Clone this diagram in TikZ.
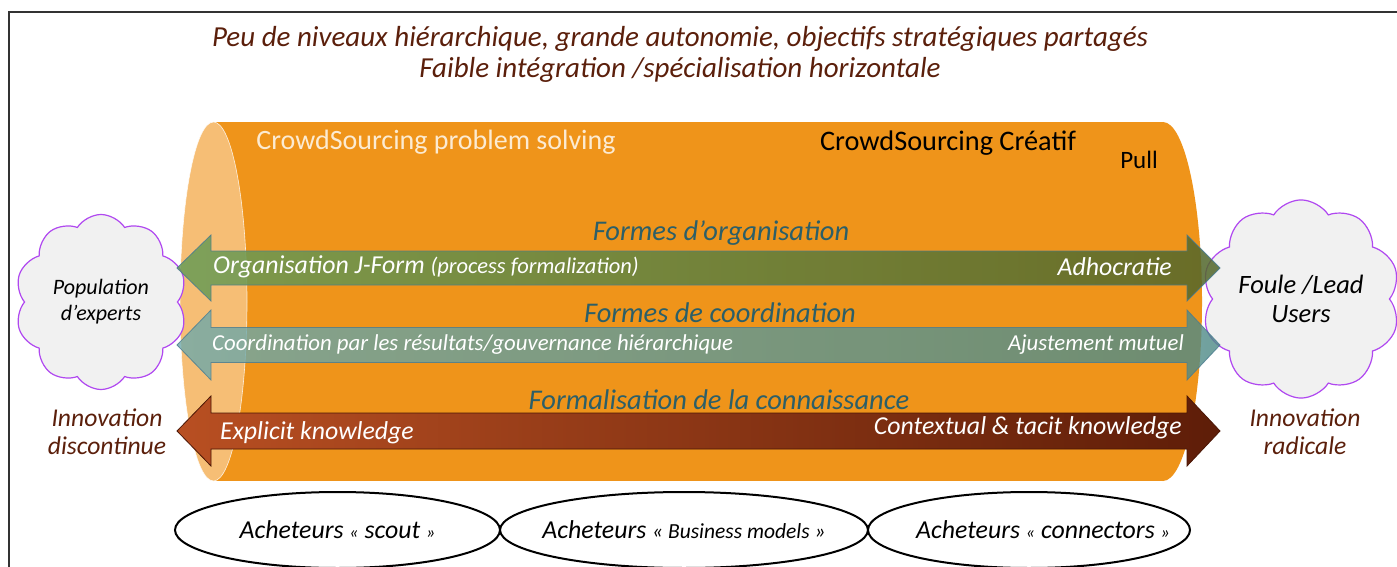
\documentclass[tikz,border=0pt]{standalone}
\usepackage{fontspec}
\setmainfont{Carlito}
\usetikzlibrary{shapes.symbols,shapes.geometric}
\definecolor{bodyor}{HTML}{EF941A}
\definecolor{faceor}{HTML}{F6BE75}
\definecolor{titlebr}{HTML}{5B1F0B}
\definecolor{labteal}{HTML}{2C5F68}
\definecolor{cloudpur}{HTML}{B048F0}
\definecolor{cloudfill}{HTML}{F1F1F1}
\definecolor{crowdcream}{HTML}{FCEBD2}
\definecolor{grL}{HTML}{6A9C56}
\definecolor{grR}{HTML}{52662A}
\definecolor{tlL}{HTML}{6FA9AA}
\definecolor{tlR}{HTML}{4E8A86}
\definecolor{brL}{HTML}{B84F22}
\definecolor{brR}{HTML}{5E1D08}
\definecolor{arredge}{HTML}{4A7C90}
\tikzset{
  titletxt/.style={font=\itshape\fontsize{29}{31}\selectfont, text=titlebr, align=center},
  formlab/.style={font=\itshape\fontsize{28.5}{30}\selectfont, text=labteal},
  arrtxt/.style={font=\itshape\fontsize{25.8}{28}\selectfont, text=white, inner sep=0pt},
  smallarrtxt/.style={font=\itshape\fontsize{22.8}{26}\selectfont, text=white, inner sep=0pt},
  cloudnode/.style={cloud, cloud puffs=10, cloud puff arc=115, aspect=1, draw=cloudpur, line width=1.2pt, fill=cloudfill, align=center, text=black, inner sep=0pt},
  innov/.style={font=\itshape\fontsize{25.6}{28}\selectfont, text=titlebr, align=center},
  buyer/.style={ellipse, draw=black, line width=2pt, fill=white, inner sep=0pt, minimum height=76pt},
  buyertxt/.style={font=\itshape\fontsize{25.8}{28}\selectfont, text=black, inner sep=0pt},
  greenarr/.style={left color=grL, right color=grR, draw=arredge, line width=0.8pt, opacity=0.85},
  tealarr/.style={left color=tlL, right color=tlR, draw=arredge, line width=0.8pt, opacity=0.8},
  brownarr/.style={left color=brL, right color=brR, draw=brR!80!black, line width=0.8pt},
}
\newcommand{\guil}[1]{{\fontsize{18}{20}\selectfont #1}}
\newcommand{\mydblarrow}[4]{% style, cy, shaft half, head half
  \path[#1] (177,-#2) -- (211,-#2+#4) -- (211,-#2+#3) -- (1187,-#2+#3) -- (1187,-#2+#4) -- (1220,-#2) -- (1187,-#2-#4) -- (1187,-#2-#3) -- (211,-#2-#3) -- (211,-#2-#4) -- cycle;
}
\begin{document}
\begin{tikzpicture}[x=1pt,y=1pt]
\useasboundingbox (0,0) rectangle (1397,-567);
\clip (0,0) rectangle (1397,-567);
\fill[white] (0,0) rectangle (1397,-567);
% frame
\draw[line width=1.3pt, black!80] (9,-12) rectangle (1410,-600);
% title
\node[titletxt] (title) at (680,-54) {Peu de niveaux hiérarchique, grande autonomie, objectifs stratégiques partagés\\Faible intégration /spécialisation horizontale};
% cylinder body
\fill[bodyor] (213,-122) rectangle (1163,-481);
\fill[bodyor] (1163,-301.5) ellipse [x radius=39, y radius=179.5];
\fill[faceor] (213.5,-301.5) ellipse [x radius=33.5, y radius=179.5];
\draw[white, line width=0.6pt, opacity=0.8] (213.5,-301.5) ellipse [x radius=33.5, y radius=179.5];
% cylinder texts
\node[font=\fontsize{28}{30}\selectfont, text=crowdcream] (cps) at (436,-142) {CrowdSourcing problem solving};
\node[font=\fontsize{28.3}{30}\selectfont, text=black] (cc) at (948,-143) {CrowdSourcing Créatif};
\node[font=\fontsize{25}{30}\selectfont, text=black] (pull) at (1139,-160) {Pull};
% clouds
\node[cloudnode, minimum width=172pt, minimum height=175pt, font=\itshape\fontsize{22}{26}\selectfont] (experts) at (101,-302) {Population\\d’experts};
\node[cloudnode, minimum width=192pt, minimum height=182pt, font=\itshape\fontsize{26.5}{29}\selectfont] (foule) at (1301,-299) {Foule /Lead\\Users};
% arrows
\mydblarrow{greenarr}{268}{17}{33}
\mydblarrow{tealarr}{345}{17.5}{35}
\mydblarrow{brownarr}{431}{18}{35}
% arrow labels
\node[formlab] (f1) at (721,-233) {Formes d’organisation};
\node[formlab] (f2) at (720,-313) {Formes de coordination};
\node[formlab] (f3) at (719,-400) {Formalisation de la connaissance};
\node[arrtxt, anchor=west] (jform) at (213,-267) {Organisation J-Form {\fontsize{22.5}{24}\selectfont (process formalization)}};
\node[arrtxt, anchor=east] (adho) at (1172,-267) {Adhocratie};
\node[smallarrtxt, anchor=west] (coord) at (212,-345) {Coordination par les résultats/gouvernance hiérarchique};
\node[smallarrtxt, anchor=east] (ajust) at (1184,-345) {Ajustement mutuel};
\node[arrtxt, anchor=west] (expl) at (220,-433) {Explicit knowledge};
\node[arrtxt, anchor=east] (ctx) at (1182,-428) {Contextual \& tacit knowledge};
% innovation
\node[innov] (idisc) at (107,-432) {Innovation\\discontinue};
\node[innov] (irad) at (1305,-432) {Innovation\\radicale};
% buyers
\node[buyer, minimum width=325pt] (scout) at (337.5,-530) {};
\node[buyer, minimum width=368pt] (bm) at (684,-530) {};
\node[buyer, minimum width=322pt] (conn) at (1029,-530) {};
\node[buyertxt] (scouttxt) at (scout.center) {Acheteurs \guil{«} scout \guil{»}};
\node[buyertxt] (bmtxt) at (bm.center) {Acheteurs {\fontsize{21.5}{24}\selectfont « Business models »}};
\node[buyertxt] (conntxt) at ([xshift=14pt]conn.center) {Acheteurs \guil{«} connectors \guil{»}};
\end{tikzpicture}
\end{document}
